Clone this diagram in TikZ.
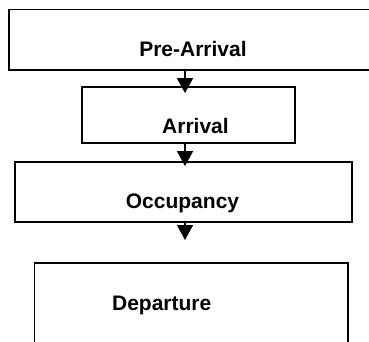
\documentclass[tikz,border=0pt]{standalone}
\usepackage{fontspec}
\setmainfont{Liberation Sans}
\usetikzlibrary{arrows.meta}
\begin{document}
\begin{tikzpicture}[x=1pt,y=-1pt,
  stage/.style={draw=black, line width=1.8pt, rectangle, inner sep=0pt},
  caption/.style={anchor=base, inner sep=0pt, font=\fontsize{21}{24}\selectfont\bfseries},
  flow/.style={line width=1.6pt, -{Triangle[width=16pt,length=15pt]}}]
  \useasboundingbox (0,0) rectangle (369,341);
  \clip (0,0) rectangle (369,341);
  % stage boxes
  \node[stage, minimum width=371pt, minimum height=60.5pt] (pre) at (194.5,39.75) {};
  \node[stage, minimum width=213pt, minimum height=56pt] (arr) at (188.5,115) {};
  \node[stage, minimum width=337pt, minimum height=60pt] (occ) at (183.5,192) {};
  \node[stage, minimum width=313.5pt, minimum height=97pt] (dep) at (191.25,311.5) {};
  % stage names
  \node[caption] (tpre) at (193,56.5) {Pre-Arrival};
  \node[caption] (tarr) at (195.5,133) {Arrival};
  \node[caption] (tocc) at (182.5,208) {Occupancy};
  \node[caption] (tdep) at (161.7,310.5) {Departure};
  % connectors
  \coordinate (occend) at (185,240);
  \draw[flow, shorten >=-7pt] (pre.south -| occend) -- (arr.north -| occend);
  \draw[flow, shorten >=-5pt] (arr.south -| occend) -- (occ.north -| occend);
  \draw[flow] (occ.south -| occend) -- (occend);
\end{tikzpicture}
\end{document}
